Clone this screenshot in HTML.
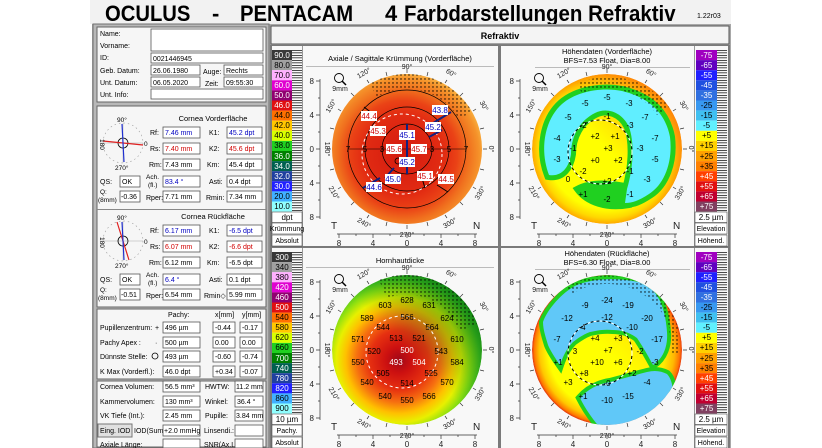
<!DOCTYPE html>
<html><head><meta charset="utf-8"><style>
html,body{margin:0;padding:0;background:#fff;width:822px;height:448px;overflow:hidden}
svg{display:block;font-family:"Liberation Sans",sans-serif}
.s{font-size:7px}
.b{fill:#0000c0}.r{fill:#d00000}
.f{fill:#fff;stroke:#555;stroke-width:0.8}
.w{fill:#fff}
.lb{fill:#fff;stroke:#333;stroke-width:0.5}
</style></head><body>
<svg width="822" height="448" viewBox="0 0 822 448">
<defs>
<pattern id="dots" width="4" height="4" patternUnits="userSpaceOnUse"><circle cx="2" cy="2" r="0.7" fill="#000"/></pattern>
<pattern id="tk" width="10" height="2.5" patternUnits="userSpaceOnUse"><rect width="10" height="0.7" fill="#000"/></pattern>
<radialGradient id="g1" gradientUnits="userSpaceOnUse" cx="-4" cy="6" r="82">
<stop offset="0" stop-color="#d41a10"/><stop offset="0.5" stop-color="#e22c12"/><stop offset="0.66" stop-color="#ea4216"/><stop offset="0.8" stop-color="#f0701e"/><stop offset="0.93" stop-color="#f5922a"/><stop offset="1" stop-color="#f8b040"/></radialGradient>
<radialGradient id="g3" gradientUnits="userSpaceOnUse" cx="-8" cy="10" r="92">
<stop offset="0" stop-color="#a00818"/><stop offset="0.14" stop-color="#cc1010"/><stop offset="0.32" stop-color="#e63010"/><stop offset="0.46" stop-color="#f67010"/><stop offset="0.58" stop-color="#ffc000"/><stop offset="0.68" stop-color="#e8f000"/><stop offset="0.78" stop-color="#90e010"/><stop offset="0.88" stop-color="#40c020"/><stop offset="1" stop-color="#109018"/></radialGradient>
<radialGradient id="g2" gradientUnits="userSpaceOnUse" cx="0" cy="0" r="75">
<stop offset="0" stop-color="#ffff00"/><stop offset="0.8" stop-color="#ffff00"/><stop offset="0.92" stop-color="#ffd800"/><stop offset="1" stop-color="#ffa800"/></radialGradient>
<radialGradient id="g4" gradientUnits="userSpaceOnUse" cx="0" cy="0" r="75">
<stop offset="0" stop-color="#ffff00"/><stop offset="0.78" stop-color="#ffff00"/><stop offset="0.9" stop-color="#ffc800"/><stop offset="0.97" stop-color="#ff7800"/><stop offset="1" stop-color="#e03010"/></radialGradient>
<linearGradient id="tr" x1="0" y1="1" x2="1" y2="0"><stop offset="0.5" stop-color="#ff6010" stop-opacity="0"/><stop offset="1" stop-color="#ff6010" stop-opacity="0.75"/></linearGradient>
<linearGradient id="tg" x1="0" y1="1" x2="1" y2="0"><stop offset="0.5" stop-color="#087010" stop-opacity="0"/><stop offset="1" stop-color="#087010" stop-opacity="0.8"/></linearGradient>
<clipPath id="cc"><circle r="75"/></clipPath>
<g id="ax">
<path d="M-87,-70V70M-91,-68H-87M-89,-51H-87M-91,-34H-87M-89,-17H-87M-91,0H-87M-89,17H-87M-91,34H-87M-89,51H-87M-91,68H-87M-70,85H70M-68,85V89M-51,85V87M-34,85V89M-17,85V87M0,85V89M17,85V87M34,85V89M51,85V87M68,85V89" stroke="#333" stroke-width="0.7" fill="none"/>
<circle cx="-68" cy="-71" r="4.5" fill="none" stroke="#000" stroke-width="0.9"/><path d="M-65,-68L-61,-64" stroke="#000" stroke-width="1.5"/>
<path d="M0,-76V-80M0,76V80M76,0H80M-76,0H-80M38,-66L40,-69M66,-38L69,-40M-38,-66L-40,-69M-66,-38L-69,-40M38,66L40,69M66,38L69,40M-38,66L-40,69M-66,38L-69,40M20,-73L21,-77M-20,-73L-21,-77M20,73L21,77M-20,73L-21,77M73,20L77,21M73,-20L77,-21M-73,20L-77,21M-73,-20L-77,-21M53,-53L56,-56M-53,-53L-56,-56M53,53L56,56M-53,53L-56,56" stroke="#333" stroke-width="0.7"/>
</g>
</defs>

<!-- title -->
<rect x="90" y="0" width="641" height="24" fill="#f2f2f2"/>
<g font-size="22" font-weight="bold">
<text transform="translate(105,21) scale(0.92,1)">OCULUS</text>
<text x="212" y="21">-</text>
<text transform="translate(240,21) scale(0.92,1)">PENTACAM</text>
<text x="385" y="21">4</text>
<text transform="translate(404,21) scale(0.93,1)">Farbdarstellungen Refraktiv</text>
</g>
<text x="697" y="18" font-size="7">1.22r03</text>

<!-- window -->
<rect x="92" y="24" width="639" height="424" fill="#a8a8a8"/>
<rect x="93" y="24" width="176" height="424" fill="#b8b8b8" stroke="#707070"/>
<rect x="271" y="26" width="458" height="18" fill="#f4f4f4" stroke="#555"/>
<text x="500" y="39" font-size="9" font-weight="bold" text-anchor="middle">Refraktiv</text>
<rect x="270" y="45" width="460" height="403" fill="#7a7a7a"/>
<rect x="272" y="46" width="226" height="200" fill="#f8f8f8"/>
<rect x="501" y="46" width="227" height="200" fill="#f8f8f8"/>
<rect x="272" y="248" width="226" height="200" fill="#f8f8f8"/>
<rect x="501" y="248" width="227" height="200" fill="#f8f8f8"/>
<path d="M302.5,46V246M302.5,248V448M694.5,46V246M694.5,248V448" stroke="#999"/>

<!-- LEFT PANEL -->
<rect x="97" y="27" width="169" height="75" fill="#f6f6f6" stroke="#666"/>
<g class="s">
<text x="100" y="36">Name:</text><text x="100" y="48">Vorname:</text><text x="100" y="60">ID:</text>
<text x="100" y="73">Geb. Datum:</text><text x="100" y="85">Unt. Datum:</text><text x="100" y="97">Unt. Info:</text>
<rect class="f" x="151" y="29" width="112" height="22"/>
<rect class="f" x="151" y="53" width="112" height="10"/><text x="153" y="61">0021446945</text>
<rect class="f" x="151" y="65" width="49" height="10"/><text x="153" y="73">26.06.1980</text>
<text x="203" y="74">Auge:</text><rect class="f" x="224" y="65" width="39" height="10"/><text x="226" y="73">Rechts</text>
<rect class="f" x="151" y="77" width="49" height="10"/><text x="153" y="85">06.05.2020</text>
<text x="205" y="86">Zeit:</text><rect class="f" x="224" y="77" width="39" height="10"/><text x="226" y="85">09:55:30</text>
<rect class="f" x="151" y="89" width="112" height="10"/>
</g>

<rect x="97" y="106" width="169" height="201" fill="#f6f6f6" stroke="#666"/>
<line x1="97" y1="209.5" x2="266" y2="209.5" stroke="#888"/>
<g transform="translate(123,143)">
<circle r="20" fill="none" stroke="#999" stroke-width="0.6" stroke-dasharray="1.5 3"/>
<path d="M-20,0H20M0,-20V20" stroke="#aaa" stroke-width="0.5"/>
<circle r="5" fill="none" stroke="#000" stroke-width="0.8"/>
<line x1="-20" y1="-2" x2="20" y2="2" stroke="#e02020" stroke-width="1.2"/>
<line x1="-1" y1="-19" x2="1" y2="19" stroke="#2030d0" stroke-width="1.2"/>
<text x="-6" y="-21" font-size="6.5">90°</text><text x="-8" y="27" font-size="6.5">270°</text>
<text font-size="6.5" transform="translate(-23,-4) rotate(90)">180</text><text x="21" y="3" font-size="6.5">0</text>
</g>
<g class="s">
<text x="213" y="121" text-anchor="middle" font-size="7.5">Cornea Vorderfläche</text>
<text x="150" y="135">Rf:</text><rect class="f" x="163" y="127" width="37" height="11"/><text class="b" x="165" y="135">7.46 mm</text>
<text x="209" y="135">K1:</text><rect class="f" x="227" y="127" width="35" height="11"/><text class="b" x="229" y="135">45.2 dpt</text>
<text x="150" y="151">Rs:</text><rect class="f" x="163" y="143" width="37" height="11"/><text class="r" x="165" y="151">7.40 mm</text>
<text x="209" y="151">K2:</text><rect class="f" x="227" y="143" width="35" height="11"/><text class="r" x="229" y="151">45.6 dpt</text>
<text x="149" y="167">Rm:</text><rect class="f" x="163" y="159" width="37" height="11"/><text x="165" y="167">7.43 mm</text>
<text x="207" y="167">Km:</text><rect class="f" x="227" y="159" width="35" height="11"/><text x="229" y="167">45.4 dpt</text>
<text x="100" y="184">QS:</text><rect class="f" x="120" y="176" width="20" height="11"/><text x="122" y="184">OK</text>
<text x="146" y="179" font-size="6.5">Ach.</text><text x="148" y="187" font-size="6.5">(fl.)</text>
<rect class="f" x="163" y="176" width="37" height="11"/><text class="b" x="165" y="184">83.4 °</text>
<text x="209" y="184">Asti:</text><rect class="f" x="227" y="176" width="35" height="11"/><text x="229" y="184">0.4 dpt</text>
<text x="100" y="194" font-size="6.5">Q:</text><text x="98" y="202" font-size="6.5">(8mm)</text>
<rect class="f" x="120" y="191" width="20" height="11"/><text x="121" y="199">-0.36</text>
<text x="146" y="200">Rper:</text><rect class="f" x="163" y="191" width="37" height="11"/><text x="165" y="199">7.71 mm</text>
<text x="206" y="200">Rmin:</text><rect class="f" x="227" y="191" width="35" height="11"/><text x="229" y="199">7.34 mm</text>
</g>
<g transform="translate(123,241)">
<circle r="20" fill="none" stroke="#999" stroke-width="0.6" stroke-dasharray="1.5 3"/>
<path d="M-20,0H20M0,-20V20" stroke="#aaa" stroke-width="0.5"/>
<circle r="5" fill="none" stroke="#000" stroke-width="0.8"/>
<line x1="-6" y1="-19" x2="6" y2="19" stroke="#e02020" stroke-width="1.2"/>
<line x1="-1" y1="-19" x2="1" y2="19" stroke="#2030d0" stroke-width="1.2"/>
<text x="-6" y="-21" font-size="6.5">90°</text><text x="-8" y="27" font-size="6.5">270°</text>
<text font-size="6.5" transform="translate(-23,-4) rotate(90)">180</text><text x="21" y="3" font-size="6.5">0</text>
</g>
<g class="s">
<text x="213" y="219" text-anchor="middle" font-size="7.5">Cornea Rückfläche</text>
<text x="150" y="233">Rf:</text><rect class="f" x="163" y="225" width="37" height="11"/><text class="b" x="165" y="233">6.17 mm</text>
<text x="209" y="233">K1:</text><rect class="f" x="227" y="225" width="35" height="11"/><text class="b" x="229" y="233">-6.5 dpt</text>
<text x="150" y="249">Rs:</text><rect class="f" x="163" y="241" width="37" height="11"/><text class="r" x="165" y="249">6.07 mm</text>
<text x="209" y="249">K2:</text><rect class="f" x="227" y="241" width="35" height="11"/><text class="r" x="229" y="249">-6.6 dpt</text>
<text x="149" y="265">Rm:</text><rect class="f" x="163" y="257" width="37" height="11"/><text x="165" y="265">6.12 mm</text>
<text x="207" y="265">Km:</text><rect class="f" x="227" y="257" width="35" height="11"/><text x="229" y="265">-6.5 dpt</text>
<text x="100" y="282">QS:</text><rect class="f" x="120" y="274" width="20" height="11"/><text x="122" y="282">OK</text>
<text x="146" y="277" font-size="6.5">Ach.</text><text x="148" y="285" font-size="6.5">(fl.)</text>
<rect class="f" x="163" y="274" width="37" height="11"/><text class="b" x="165" y="282">6.4 °</text>
<text x="209" y="282">Asti:</text><rect class="f" x="227" y="274" width="35" height="11"/><text x="229" y="282">0.1 dpt</text>
<text x="100" y="292" font-size="6.5">Q:</text><text x="98" y="300" font-size="6.5">(8mm)</text>
<rect class="f" x="120" y="289" width="20" height="11"/><text x="121" y="297">-0.51</text>
<text x="146" y="298">Rper:</text><rect class="f" x="163" y="289" width="37" height="11"/><text x="165" y="297">6.54 mm</text>
<text x="204" y="298">Rmin◇</text><rect class="f" x="227" y="289" width="35" height="11"/><text x="229" y="297">5.99 mm</text>
</g>

<rect x="97" y="309" width="169" height="70" fill="#f6f6f6" stroke="#666"/>
<g class="s">
<text x="168" y="317">Pachy:</text><text x="215" y="317">x[mm]</text><text x="242" y="317">y[mm]</text>
<text x="100" y="330">Pupillenzentrum:</text><text x="155" y="330">+</text>
<rect class="f" x="163" y="322" width="37" height="11"/><text x="165" y="330">496 µm</text>
<rect class="f" x="213" y="322" width="22" height="11"/><text x="215" y="330">-0.44</text>
<rect class="f" x="240" y="322" width="22" height="11"/><text x="242" y="330">-0.17</text>
<text x="100" y="345">Pachy Apex :</text><text x="155" y="345">·</text>
<rect class="f" x="163" y="337" width="37" height="11"/><text x="165" y="345">500 µm</text>
<rect class="f" x="213" y="337" width="22" height="11"/><text x="215" y="345">0.00</text>
<rect class="f" x="240" y="337" width="22" height="11"/><text x="242" y="345">0.00</text>
<text x="100" y="359">Dünnste Stelle:</text><circle cx="155" cy="356" r="3" fill="none" stroke="#000" stroke-width="0.8"/>
<rect class="f" x="163" y="351" width="37" height="11"/><text x="165" y="359">493 µm</text>
<rect class="f" x="213" y="351" width="22" height="11"/><text x="215" y="359">-0.60</text>
<rect class="f" x="240" y="351" width="22" height="11"/><text x="242" y="359">-0.74</text>
<text x="100" y="374">K Max (Vorderfl.):</text>
<rect class="f" x="163" y="366" width="37" height="11"/><text x="165" y="374">46.0 dpt</text>
<rect class="f" x="213" y="366" width="22" height="11"/><text x="215" y="374">+0.34</text>
<rect class="f" x="240" y="366" width="22" height="11"/><text x="242" y="374">-0.07</text>
</g>

<rect x="97" y="381" width="169" height="66" fill="#f6f6f6" stroke="#666"/>
<g class="s">
<text x="100" y="389">Cornea Volumen:</text><rect class="f" x="163" y="381" width="37" height="11"/><text x="165" y="389">56.5 mm³</text>
<text x="205" y="389">HWTW:</text><rect class="f" x="235" y="381" width="28" height="11"/><text x="236" y="389">11.2 mm</text>
<text x="100" y="404">Kammervolumen:</text><rect class="f" x="163" y="396" width="37" height="11"/><text x="165" y="404">130 mm³</text>
<text x="205" y="404">Winkel:</text><rect class="f" x="235" y="396" width="28" height="11"/><text x="237" y="404">36.4 °</text>
<text x="100" y="418">VK Tiefe (Int.):</text><rect class="f" x="163" y="410" width="37" height="11"/><text x="165" y="418">2.45 mm</text>
<text x="205" y="418">Pupille:</text><rect class="f" x="235" y="410" width="28" height="11"/><text x="236" y="418">3.84 mm</text>
<rect x="98" y="424" width="34" height="13" fill="#e0e0e0" stroke="#777"/><text x="100" y="433">Eing. IOD</text>
<text x="134" y="433">IOD(Sum)</text><rect class="f" x="163" y="425" width="37" height="11"/><text x="164" y="433">+2.0 mmHg</text>
<text x="204" y="433">Linsendi.:</text><rect class="f" x="235" y="425" width="28" height="11"/>
<text x="100" y="447">Axiale Länge:</text><rect class="f" x="163" y="439" width="37" height="9"/>
<text x="204" y="447">SNR(Ax.L</text><rect class="f" x="235" y="439" width="28" height="9"/>
</g>

<!-- COLORBARS -->
<g font-size="8" text-anchor="middle">
<g transform="translate(272,50)">
<rect y="0" width="20" height="10.1" fill="#383838"/><text x="10" y="8" fill="#fff">90.0</text>
<rect y="10.1" width="20" height="10.1" fill="#a0a0a0"/><text x="10" y="18" >80.0</text>
<rect y="20.2" width="20" height="10.1" fill="#ffb0ff"/><text x="10" y="28">70.0</text>
<rect y="30.3" width="20" height="10.1" fill="#e000d0"/><text x="10" y="38" fill="#fff">60.0</text>
<rect y="40.4" width="20" height="10.1" fill="#900070"/><text x="10" y="48" fill="#fff">50.0</text>
<rect y="50.5" width="20" height="10.1" fill="#e01010"/><text x="10" y="58" fill="#fff">46.0</text>
<rect y="60.6" width="20" height="10.1" fill="#ff7000"/><text x="10" y="68">44.0</text>
<rect y="70.7" width="20" height="10.1" fill="#ffc800"/><text x="10" y="78">42.0</text>
<rect y="80.8" width="20" height="10.1" fill="#d8ff00"/><text x="10" y="88">40.0</text>
<rect y="90.9" width="20" height="10.1" fill="#20d020"/><text x="10" y="98">38.0</text>
<rect y="101" width="20" height="10.1" fill="#008000"/><text x="10" y="109" fill="#fff">36.0</text>
<rect y="111.1" width="20" height="10.1" fill="#006050"/><text x="10" y="119" fill="#fff">34.0</text>
<rect y="121.2" width="20" height="10.1" fill="#2040a0"/><text x="10" y="129" fill="#fff">32.0</text>
<rect y="131.3" width="20" height="10.1" fill="#2020ff"/><text x="10" y="139" fill="#fff">30.0</text>
<rect y="141.4" width="20" height="10.1" fill="#40b0ff"/><text x="10" y="149">20.0</text>
<rect y="151.5" width="20" height="10.1" fill="#90ffff"/><text x="10" y="159">10.0</text>
<rect x="20" y="0" width="10" height="161.6" fill="url(#tk)"/>
<rect class="lb" x="0" y="162" width="30" height="10.5"/><text x="15" y="170">dpt</text>
<rect class="lb" x="0" y="173" width="30" height="11"/><text x="15" y="181" font-size="7">Krümmung</text>
<rect class="lb" x="0" y="185" width="30" height="11"/><text x="15" y="193" font-size="7">Absolut</text>
</g>
<g transform="translate(272,252)">
<rect y="0" width="20" height="10.1" fill="#383838"/><text x="10" y="8" fill="#fff">300</text>
<rect y="10.1" width="20" height="10.1" fill="#a0a0a0"/><text x="10" y="18">340</text>
<rect y="20.2" width="20" height="10.1" fill="#ffb0ff"/><text x="10" y="28">380</text>
<rect y="30.3" width="20" height="10.1" fill="#e000d0"/><text x="10" y="38" fill="#fff">420</text>
<rect y="40.4" width="20" height="10.1" fill="#900070"/><text x="10" y="48" fill="#fff">460</text>
<rect y="50.5" width="20" height="10.1" fill="#e01010"/><text x="10" y="58" fill="#fff">500</text>
<rect y="60.6" width="20" height="10.1" fill="#ff7000"/><text x="10" y="68">540</text>
<rect y="70.7" width="20" height="10.1" fill="#ffc800"/><text x="10" y="78">580</text>
<rect y="80.8" width="20" height="10.1" fill="#d8ff00"/><text x="10" y="88">620</text>
<rect y="90.9" width="20" height="10.1" fill="#20d020"/><text x="10" y="98">660</text>
<rect y="101" width="20" height="10.1" fill="#008000"/><text x="10" y="109" fill="#fff">700</text>
<rect y="111.1" width="20" height="10.1" fill="#006050"/><text x="10" y="119" fill="#fff">740</text>
<rect y="121.2" width="20" height="10.1" fill="#2040a0"/><text x="10" y="129" fill="#fff">780</text>
<rect y="131.3" width="20" height="10.1" fill="#2020ff"/><text x="10" y="139" fill="#fff">820</text>
<rect y="141.4" width="20" height="10.1" fill="#40b0ff"/><text x="10" y="149">860</text>
<rect y="151.5" width="20" height="10.1" fill="#90ffff"/><text x="10" y="159">900</text>
<rect x="20" y="0" width="10" height="161.6" fill="url(#tk)"/>
<rect class="lb" x="0" y="162" width="30" height="10.5"/><text x="15" y="170">10 µm</text>
<rect class="lb" x="0" y="173" width="30" height="11"/><text x="15" y="181" font-size="7">Pachy.</text>
<rect class="lb" x="0" y="185" width="30" height="11"/><text x="15" y="193" font-size="7">Absolut</text>
</g>
<g transform="translate(696,50)">
<rect y="0" width="21" height="10.1" fill="#a000c0"/><text x="10.5" y="8" fill="#fff">-75</text>
<rect y="10.1" width="21" height="10.1" fill="#6000c0"/><text x="10.5" y="18" fill="#fff">-65</text>
<rect y="20.2" width="21" height="10.1" fill="#2020ff"/><text x="10.5" y="28" fill="#fff">-55</text>
<rect y="30.3" width="21" height="10.1" fill="#2050e0"/><text x="10.5" y="38" fill="#fff">-45</text>
<rect y="40.4" width="21" height="10.1" fill="#3070e0"/><text x="10.5" y="48" fill="#fff">-35</text>
<rect y="50.5" width="21" height="10.1" fill="#3898f0"/><text x="10.5" y="58">-25</text>
<rect y="60.6" width="21" height="10.1" fill="#40c0f0"/><text x="10.5" y="68">-15</text>
<rect y="70.7" width="21" height="10.1" fill="#60f0ff"/><text x="10.5" y="78">-5</text>
<rect y="80.8" width="21" height="10.1" fill="#ffff00"/><text x="10.5" y="88">+5</text>
<rect y="90.9" width="21" height="10.1" fill="#ffd000"/><text x="10.5" y="98">+15</text>
<rect y="101" width="21" height="10.1" fill="#ffa000"/><text x="10.5" y="109">+25</text>
<rect y="111.1" width="21" height="10.1" fill="#ff8000"/><text x="10.5" y="119">+35</text>
<rect y="121.2" width="21" height="10.1" fill="#ff4000"/><text x="10.5" y="129" fill="#fff">+45</text>
<rect y="131.3" width="21" height="10.1" fill="#e01010"/><text x="10.5" y="139" fill="#fff">+55</text>
<rect y="141.4" width="21" height="10.1" fill="#c00030"/><text x="10.5" y="149" fill="#fff">+65</text>
<rect y="151.5" width="21" height="10.1" fill="#804060"/><text x="10.5" y="159" fill="#fff">+75</text>
<rect x="21" y="0" width="10" height="161.6" fill="url(#tk)"/>
<rect class="lb" x="-1" y="162" width="32" height="10.5"/><text x="15" y="170">2.5 µm</text>
<rect class="lb" x="-1" y="173" width="32" height="11"/><text x="15" y="181" font-size="7">Elevation</text>
<rect class="lb" x="-1" y="185" width="32" height="11"/><text x="15" y="193" font-size="7">Höhend.</text>
</g>
<g transform="translate(696,252)">
<rect y="0" width="21" height="10.1" fill="#a000c0"/><text x="10.5" y="8" fill="#fff">-75</text>
<rect y="10.1" width="21" height="10.1" fill="#6000c0"/><text x="10.5" y="18" fill="#fff">-65</text>
<rect y="20.2" width="21" height="10.1" fill="#2020ff"/><text x="10.5" y="28" fill="#fff">-55</text>
<rect y="30.3" width="21" height="10.1" fill="#2050e0"/><text x="10.5" y="38" fill="#fff">-45</text>
<rect y="40.4" width="21" height="10.1" fill="#3070e0"/><text x="10.5" y="48" fill="#fff">-35</text>
<rect y="50.5" width="21" height="10.1" fill="#3898f0"/><text x="10.5" y="58">-25</text>
<rect y="60.6" width="21" height="10.1" fill="#40c0f0"/><text x="10.5" y="68">-15</text>
<rect y="70.7" width="21" height="10.1" fill="#60f0ff"/><text x="10.5" y="78">-5</text>
<rect y="80.8" width="21" height="10.1" fill="#ffff00"/><text x="10.5" y="88">+5</text>
<rect y="90.9" width="21" height="10.1" fill="#ffd000"/><text x="10.5" y="98">+15</text>
<rect y="101" width="21" height="10.1" fill="#ffa000"/><text x="10.5" y="109">+25</text>
<rect y="111.1" width="21" height="10.1" fill="#ff8000"/><text x="10.5" y="119">+35</text>
<rect y="121.2" width="21" height="10.1" fill="#ff4000"/><text x="10.5" y="129" fill="#fff">+45</text>
<rect y="131.3" width="21" height="10.1" fill="#e01010"/><text x="10.5" y="139" fill="#fff">+55</text>
<rect y="141.4" width="21" height="10.1" fill="#c00030"/><text x="10.5" y="149" fill="#fff">+65</text>
<rect y="151.5" width="21" height="10.1" fill="#804060"/><text x="10.5" y="159" fill="#fff">+75</text>
<rect x="21" y="0" width="10" height="161.6" fill="url(#tk)"/>
<rect class="lb" x="-1" y="162" width="32" height="10.5"/><text x="15" y="170">2.5 µm</text>
<rect class="lb" x="-1" y="173" width="32" height="11"/><text x="15" y="181" font-size="7">Elevation</text>
<rect class="lb" x="-1" y="185" width="32" height="11"/><text x="15" y="193" font-size="7">Höhend.</text>
</g>
</g>

<!-- map titles -->
<g font-size="7.5" text-anchor="middle">
<text x="400" y="61">Axiale / Sagittale Krümmung (Vorderfläche)</text>
<text x="607" y="54">Höhendaten (Vorderfläche)</text><text x="607" y="63">BFS=7.53 Float, Dia=8.00</text>
<text x="400" y="263">Hornhautdicke</text>
<text x="607" y="256">Höhendaten (Rückfläche)</text><text x="607" y="265">BFS=6.30 Float, Dia=8.00</text>
</g>
<path d="M306,66.5H494M535,67.5H690M306,267.5H494M535,269.5H690" stroke="#bbb"/>

<!-- MAP 1 -->
<g transform="translate(407,149)">
<use href="#ax"/>
<circle r="75" fill="url(#g1)"/>
<path d="M-37.5,-65A75,75 0 0 1 65,-37.5L52,-30A60,60 0 0 0 -30,-52Z" fill="url(#dots)"/>
<g fill="none" stroke="#000" stroke-width="0.7"><circle r="25"/><circle r="42"/><circle r="59"/></g>
<path d="M-59,0H59" stroke="#000" stroke-width="0.5"/>
<circle cx="-5" cy="5" r="40" fill="none" stroke="#fff" stroke-width="1" stroke-dasharray="3 3"/>
<circle cx="-9" cy="12" r="3" fill="none" stroke="#000" stroke-width="0.8"/>
<g stroke="#102080" stroke-width="2"><path d="M0,-25V25M23,-24L44,-37M22,-12L35,-19M-13,19L-22,29M-27,29L-44,39"/></g>
<g stroke="#000" stroke-width="1"><path d="M-43,-42L-30,-32M14,26L18,39M30,36L41,43"/></g>
<g font-size="8" text-anchor="middle"><text x="-59" y="3">7</text><text x="-42" y="3">5</text><text x="-25" y="3">3</text><text x="25" y="3">3</text><text x="42" y="3">5</text><text x="59" y="3">7</text></g>
<g font-size="8" text-anchor="middle">
<rect x="-8" y="-19" width="16" height="10" class="w"/><text class="b" x="0" y="-11">45.1</text>
<rect x="-8" y="8" width="16" height="10" class="w"/><text class="b" x="0" y="16">45.2</text>
<rect x="-21" y="-5" width="16" height="10" class="w"/><text class="r" x="-13" y="3">45.6</text>
<rect x="4" y="-5" width="16" height="10" class="w"/><text class="r" x="12" y="3">45.7</text>
<rect x="-37" y="-23" width="16" height="10" class="w"/><text class="r" x="-29" y="-15">45.3</text>
<rect x="18" y="-27" width="16" height="10" class="w"/><text class="b" x="26" y="-19">45.2</text>
<rect x="25" y="-44" width="16" height="10" class="w"/><text class="b" x="33" y="-36">43.8</text>
<rect x="-46" y="-38" width="16" height="10" class="w"/><text class="r" x="-38" y="-30">44.4</text>
<rect x="-22" y="25" width="16" height="10" class="w"/><text class="b" x="-14" y="33">45.0</text>
<rect x="-41" y="33" width="16" height="10" class="w"/><text class="b" x="-33" y="41">44.6</text>
<rect x="10" y="22" width="16" height="10" class="w"/><text class="r" x="18" y="30">45.1</text>
<rect x="31" y="25" width="16" height="10" class="w"/><text class="r" x="39" y="33">44.5</text>
</g>
</g>

<!-- MAP 2 -->
<g transform="translate(607,149)">
<use href="#ax"/>
<g clip-path="url(#cc)">
<circle r="75" fill="url(#g2)"/>
<circle r="75" fill="url(#tr)"/>
<path d="M-30,40C-15,32 5,34 22,38L22,56C0,60 -20,54 -30,40Z" fill="#20d020" stroke="#20d020" stroke-width="6"/>
<path d="M-58,26C-68,0 -62,-30 -45,-45C-30,-58 -5,-62 15,-58C40,-52 58,-38 63,-12C66,12 58,35 42,45C33,51 26,54 18,54L20,40C26,20 28,-5 22,-22C15,-37 0,-42 -12,-36C-28,-28 -36,-12 -36,5C-38,18 -45,28 -58,26Z" fill="#60eeff" stroke="#20d020" stroke-width="10" paint-order="stroke"/>
</g>
<path d="M-30,-65A75,75 0 0 1 62,-42L50,-34A62,62 0 0 0 -25,-56Z" fill="url(#dots)"/>
<circle cx="-7" cy="3" r="32" fill="none" stroke="#fff" stroke-width="1" stroke-dasharray="3 3"/>
<circle cx="-7" cy="3" r="32" fill="none" stroke="#000" stroke-width="1" stroke-dasharray="3 3" stroke-dashoffset="3"/>
<g font-size="8" text-anchor="middle">
<text x="-22" y="-43">-5</text><text x="0" y="-49">-5</text><text x="22" y="-43">-3</text><text x="0" y="-30">-1</text>
<text x="-39" y="-29">-5</text><text x="-24" y="-21">-2</text><text x="23" y="-21">-3</text><text x="38" y="-29">-7</text>
<text x="-50" y="-8">-4</text><text x="-12" y="-10">+2</text><text x="8" y="-10">+1</text><text x="48" y="-8">-7</text>
<text x="-34" y="2">-1</text><text x="1" y="2">+3</text><text x="33" y="2">-3</text>
<text x="-50" y="13">-3</text><text x="-12" y="14">+0</text><text x="11" y="14">+2</text><text x="48" y="13">-5</text>
<text x="-24" y="25">-2</text><text x="23" y="25">-1</text>
<text x="-39" y="33">0</text><text x="0" y="35">+2</text><text x="40" y="33">-3</text>
<text x="-24" y="48">+1</text><text x="0" y="53">-2</text><text x="23" y="48">-1</text>
</g>
</g>

<!-- MAP 3 -->
<g transform="translate(407,350)">
<use href="#ax"/>
<g clip-path="url(#cc)">
<circle r="75" fill="url(#g3)"/>
<circle r="75" fill="url(#tg)"/>
</g>
<path d="M-28,-70A75,75 0 0 1 70,-26L52,-19A56,56 0 0 0 -20,-52Z" fill="url(#dots)"/>
<circle cx="-5" cy="2" r="36" fill="none" stroke="#fff" stroke-width="1" stroke-dasharray="3 3"/>
<g font-size="8" text-anchor="middle">
<text x="0" y="-47">628</text><text x="-22" y="-42">603</text><text x="22" y="-42">631</text>
<text x="-40" y="-29">589</text><text x="0" y="-30">566</text><text x="40" y="-29">624</text>
<text x="-24" y="-20">544</text><text x="25" y="-20">564</text>
<text x="-49" y="-8">571</text><text x="-11" y="-9">513</text><text x="12" y="-9">521</text><text x="50" y="-8">610</text>
<text x="-33" y="4">520</text><text x="0" y="3" fill="#fff">500</text><text x="34" y="4">543</text>
<text x="-49" y="15">550</text><text x="-11" y="15" fill="#fff">493</text><text x="12" y="15" fill="#fff">504</text><text x="50" y="15">584</text>
<text x="-24" y="26">505</text><text x="24" y="26">525</text>
<text x="-40" y="35">540</text><text x="0" y="36">514</text><text x="40" y="35">570</text>
<text x="-22" y="49">540</text><text x="22" y="49">566</text><text x="0" y="53">550</text>
</g>
</g>

<!-- MAP 4 -->
<g transform="translate(607,350)">
<use href="#ax"/>
<g clip-path="url(#cc)">
<circle r="75" fill="url(#g4)"/>
<circle r="75" fill="url(#tr)" opacity="0.6"/>
<path d="M-52,8C-52,18 -48,22 -44,16C-40,6 -46,2 -52,8Z" fill="#20d020"/>
<path d="M-64,-28C-60,-40 -45,-58 -30,-65C-10,-73 15,-72 36,-67C50,-60 58,-45 60,-18C61,-5 57,8 46,15C42,8 38,0 30,-12C22,-18 14,-20 6,-20C-5,-21 -12,-19 -17,-18C-25,-15 -30,-11 -34,-8C-40,-2 -44,6 -47,15C-52,8 -57,0 -59,-5C-61,-12 -64,-20 -64,-28Z" fill="#60c8f8" stroke="#20d020" stroke-width="8" paint-order="stroke"/>
<path d="M-27,48C-20,40 -10,34 3,32C15,29 28,25 40,22C48,20 54,21 60,24C66,30 68,45 63,55C58,65 50,72 40,76L-5,80C-12,72 -20,62 -27,48Z" fill="#60c8f8" stroke="#20d020" stroke-width="8" paint-order="stroke"/>
</g>
<path d="M-40,-63A75,75 0 0 1 72,-20L64,-17A66,66 0 0 0 -35,-56Z" fill="url(#dots)"/>
<path d="M62,-20L70,-18L73,5L65,3Z" fill="url(#dots)"/>
<circle cx="-7" cy="3" r="32" fill="none" stroke="#fff" stroke-width="1" stroke-dasharray="3 3"/>
<circle cx="-7" cy="3" r="32" fill="none" stroke="#000" stroke-width="1" stroke-dasharray="3 3" stroke-dashoffset="3"/>
<g font-size="8" text-anchor="middle">
<text x="0" y="-47">-24</text><text x="-22" y="-42">-9</text><text x="21" y="-42">-19</text>
<text x="-40" y="-29">-12</text><text x="0" y="-30">-12</text><text x="40" y="-29">-20</text>
<text x="-25" y="-20">-4</text><text x="25" y="-20">-10</text>
<text x="-50" y="-8">-7</text><text x="-12" y="-9">+4</text><text x="11" y="-9">+3</text><text x="50" y="-8">-17</text>
<text x="-32" y="4">3</text><text x="1" y="3">+7</text><text x="33" y="4">-2</text>
<text x="-49" y="15">+1</text><text x="-10" y="15">+10</text><text x="11" y="15">+6</text><text x="48" y="15">-3</text>
<text x="-23" y="26">+8</text><text x="25" y="26">+2</text>
<text x="-39" y="35">+3</text><text x="0" y="36">-0</text><text x="40" y="35">-4</text>
<text x="-24" y="49">+1</text><text x="0" y="53">-10</text><text x="21" y="49">-15</text>
</g>
</g>

<!-- axis labels -->
<g font-size="8" fill="#222">
<g transform="translate(407,149)">
<g text-anchor="end"><text x="-93" y="-65">8</text><text x="-93" y="-31">4</text><text x="-93" y="3">0</text><text x="-93" y="37">4</text><text x="-93" y="71">8</text></g>
<g text-anchor="middle"><text x="-68" y="97">8</text><text x="-34" y="97">4</text><text x="0" y="97">0</text><text x="34" y="97">4</text><text x="68" y="97">8</text>
<text x="-67" y="-58" font-size="7">9mm</text><text x="0" y="-80" font-size="7">90°</text><text x="0" y="88" font-size="7">270°</text>
<text font-size="7" transform="translate(-42,-74) rotate(-30)">120°</text><text font-size="7" transform="translate(-74,-42) rotate(-60)">150°</text>
<text font-size="7" transform="translate(43,-74) rotate(30)">60°</text><text font-size="7" transform="translate(75,-42) rotate(60)">30°</text>
<text font-size="7" transform="translate(-75,45) rotate(60)">210°</text><text font-size="7" transform="translate(-44,76) rotate(30)">240°</text>
<text font-size="7" transform="translate(44,76) rotate(-30)">300°</text><text font-size="7" transform="translate(75,45) rotate(-60)">330°</text>
<text font-size="7" transform="translate(-82,0) rotate(90)">180°</text><text font-size="7" transform="translate(82,0) rotate(90)">0°</text></g>
<text x="-76" y="80" font-size="10">T</text><text x="66" y="80" font-size="10">N</text>
</g>
<g transform="translate(607,149)">
<g text-anchor="end"><text x="-93" y="-65">8</text><text x="-93" y="-31">4</text><text x="-93" y="3">0</text><text x="-93" y="37">4</text><text x="-93" y="71">8</text></g>
<g text-anchor="middle"><text x="-68" y="97">8</text><text x="-34" y="97">4</text><text x="0" y="97">0</text><text x="34" y="97">4</text><text x="68" y="97">8</text>
<text x="-67" y="-58" font-size="7">9mm</text><text x="0" y="-80" font-size="7">90°</text><text x="0" y="88" font-size="7">270°</text>
<text font-size="7" transform="translate(-42,-74) rotate(-30)">120°</text><text font-size="7" transform="translate(-74,-42) rotate(-60)">150°</text>
<text font-size="7" transform="translate(43,-74) rotate(30)">60°</text><text font-size="7" transform="translate(75,-42) rotate(60)">30°</text>
<text font-size="7" transform="translate(-75,45) rotate(60)">210°</text><text font-size="7" transform="translate(-44,76) rotate(30)">240°</text>
<text font-size="7" transform="translate(44,76) rotate(-30)">300°</text><text font-size="7" transform="translate(75,45) rotate(-60)">330°</text>
<text font-size="7" transform="translate(-82,0) rotate(90)">180°</text><text font-size="7" transform="translate(82,0) rotate(90)">0°</text></g>
<text x="-76" y="80" font-size="10">T</text><text x="66" y="80" font-size="10">N</text>
</g>
<g transform="translate(407,350)">
<g text-anchor="end"><text x="-93" y="-65">8</text><text x="-93" y="-31">4</text><text x="-93" y="3">0</text><text x="-93" y="37">4</text><text x="-93" y="71">8</text></g>
<g text-anchor="middle"><text x="-68" y="97">8</text><text x="-34" y="97">4</text><text x="0" y="97">0</text><text x="34" y="97">4</text><text x="68" y="97">8</text>
<text x="-67" y="-58" font-size="7">9mm</text><text x="0" y="-80" font-size="7">90°</text><text x="0" y="88" font-size="7">270°</text>
<text font-size="7" transform="translate(-42,-74) rotate(-30)">120°</text><text font-size="7" transform="translate(-74,-42) rotate(-60)">150°</text>
<text font-size="7" transform="translate(43,-74) rotate(30)">60°</text><text font-size="7" transform="translate(75,-42) rotate(60)">30°</text>
<text font-size="7" transform="translate(-75,45) rotate(60)">210°</text><text font-size="7" transform="translate(-44,76) rotate(30)">240°</text>
<text font-size="7" transform="translate(44,76) rotate(-30)">300°</text><text font-size="7" transform="translate(75,45) rotate(-60)">330°</text>
<text font-size="7" transform="translate(-82,0) rotate(90)">180°</text><text font-size="7" transform="translate(82,0) rotate(90)">0°</text></g>
<text x="-76" y="80" font-size="10">T</text><text x="66" y="80" font-size="10">N</text>
</g>
<g transform="translate(607,350)">
<g text-anchor="end"><text x="-93" y="-65">8</text><text x="-93" y="-31">4</text><text x="-93" y="3">0</text><text x="-93" y="37">4</text><text x="-93" y="71">8</text></g>
<g text-anchor="middle"><text x="-68" y="97">8</text><text x="-34" y="97">4</text><text x="0" y="97">0</text><text x="34" y="97">4</text><text x="68" y="97">8</text>
<text x="-67" y="-58" font-size="7">9mm</text><text x="0" y="-80" font-size="7">90°</text><text x="0" y="88" font-size="7">270°</text>
<text font-size="7" transform="translate(-42,-74) rotate(-30)">120°</text><text font-size="7" transform="translate(-74,-42) rotate(-60)">150°</text>
<text font-size="7" transform="translate(43,-74) rotate(30)">60°</text><text font-size="7" transform="translate(75,-42) rotate(60)">30°</text>
<text font-size="7" transform="translate(-75,45) rotate(60)">210°</text><text font-size="7" transform="translate(-44,76) rotate(30)">240°</text>
<text font-size="7" transform="translate(44,76) rotate(-30)">300°</text><text font-size="7" transform="translate(75,45) rotate(-60)">330°</text>
<text font-size="7" transform="translate(-82,0) rotate(90)">180°</text><text font-size="7" transform="translate(82,0) rotate(90)">0°</text></g>
<text x="-76" y="80" font-size="10">T</text><text x="66" y="80" font-size="10">N</text>
</g>
</g>
</svg>
</body></html>
